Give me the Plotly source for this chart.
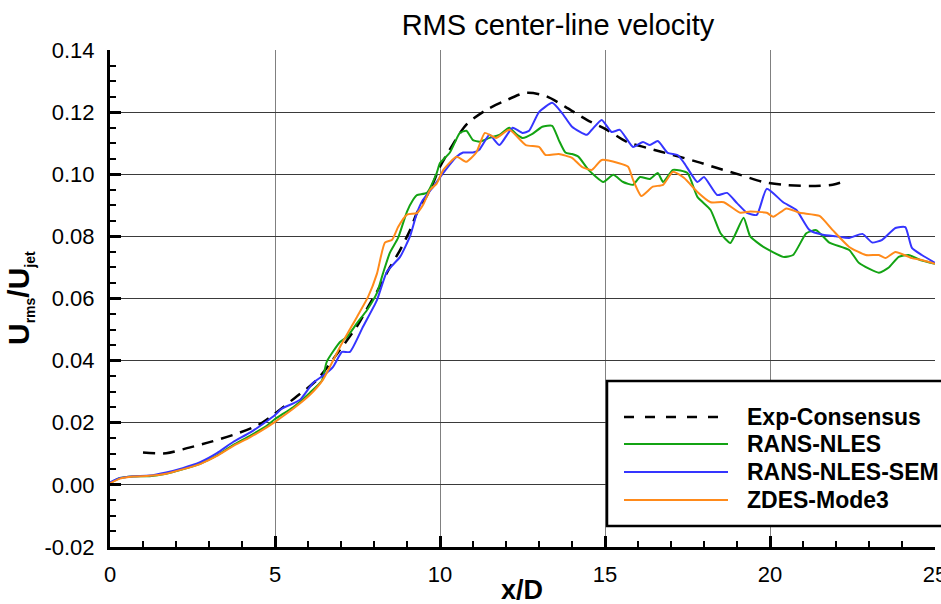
import plotly.graph_objects as go

# ---------------- data ----------------
exp_x = [1.0, 1.7, 2.4, 3.1, 3.9, 4.5, 5.0, 5.6, 6.27, 6.97, 7.48, 7.82, 8.12, 8.48, 8.79, 9.09, 9.3,
         9.7, 10.0, 10.3, 10.8, 11.4, 11.9, 12.6, 13.2, 13.8, 14.45, 15.06, 15.67, 16.27, 17.06, 17.8,
         18.4, 19.1, 19.8, 20.4, 21.2, 21.9, 22.3]
exp_y = [0.0104, 0.0102, 0.012, 0.014, 0.0167, 0.0193, 0.023, 0.028, 0.0338, 0.0435, 0.051, 0.0573,
         0.0628, 0.070, 0.0756, 0.082, 0.0875, 0.095, 0.1024, 0.108, 0.116, 0.1207, 0.1233, 0.1262,
         0.1252, 0.1217, 0.1175, 0.1143, 0.1104, 0.1085, 0.1062, 0.104, 0.102, 0.0998, 0.0975, 0.0966,
         0.0962, 0.0966, 0.0979]

nles_x = [0, 0.3, 0.7, 1.2, 1.7, 2.2, 2.73, 3.24, 3.73, 4.24, 4.75, 5.0, 5.55, 6.06, 6.42, 6.57, 6.97,
          7.18, 7.48, 7.79, 8.09, 8.27, 8.48, 8.73, 9.0, 9.18, 9.3, 9.6, 9.9, 10.0, 10.3, 10.6, 10.8,
          11.0, 11.2, 11.5, 11.8, 12.1, 12.3, 12.5, 12.8, 13.1, 13.4, 13.6, 13.8, 14.0, 14.2, 14.5,
          14.95, 15.25, 15.55, 15.85, 16.06, 16.36, 16.6, 16.76, 17.06, 17.5, 17.8, 18.2, 18.5, 18.8,
          19.2, 19.4, 19.8, 20.4, 20.7, 21.1, 21.4, 21.8, 22.4, 22.7, 23.3, 23.6, 23.9, 24.2, 24.55, 25.0]
nles_y = [0.0006, 0.0022, 0.0027, 0.0028, 0.0036, 0.0050, 0.0068, 0.0095, 0.0128, 0.0158, 0.019,
          0.0212, 0.025, 0.0297, 0.0335, 0.0397, 0.046, 0.0476, 0.052, 0.0563, 0.0618, 0.068, 0.0747,
          0.0795, 0.088, 0.0917, 0.0933, 0.094, 0.1004, 0.1036, 0.107, 0.1133, 0.114, 0.111, 0.1105,
          0.1117, 0.1127, 0.115, 0.113, 0.1117, 0.113, 0.1153, 0.1156, 0.111, 0.107, 0.1065, 0.1056,
          0.1014, 0.0975, 0.0998, 0.0975, 0.0966, 0.0991, 0.0985, 0.1004, 0.0975, 0.1014, 0.1004,
          0.0927, 0.0885, 0.081, 0.0779, 0.086, 0.080, 0.0766, 0.0734, 0.074, 0.081, 0.082, 0.078,
          0.0756, 0.0714, 0.0683, 0.070, 0.0734, 0.074, 0.0724, 0.0712]

sem_x = [0, 0.3, 0.7, 1.2, 1.7, 2.2, 2.73, 3.24, 3.73, 4.24, 4.75, 5.0, 5.2, 5.76, 6.15, 6.5, 6.76,
         7.03, 7.27, 7.67, 8.09, 8.39, 8.79, 9.09, 9.3, 9.48, 9.8, 10.0, 10.5, 10.7, 11.0, 11.2, 11.5,
         11.8, 12.2, 12.5, 12.7, 13.0, 13.4, 13.7, 14.0, 14.45, 14.6, 14.9, 15.2, 15.45, 15.85, 16.15,
         16.36, 16.6, 16.9, 17.2, 17.4, 17.8, 18.0, 18.4, 18.7, 19.0, 19.3, 19.6, 19.9, 20.4, 20.8,
         21.2, 21.6, 22.0, 22.4, 22.8, 23.1, 23.4, 23.8, 24.1, 24.3, 24.6, 25.0]
sem_y = [0.0008, 0.0022, 0.0028, 0.003, 0.004, 0.0054, 0.0073, 0.0102, 0.0138, 0.0168, 0.0205,
         0.0225, 0.0245, 0.0274, 0.0328, 0.0355, 0.038, 0.0428, 0.0428, 0.051, 0.0595, 0.0686, 0.0734,
         0.080, 0.0875, 0.0917, 0.096, 0.099, 0.1056, 0.107, 0.107, 0.108, 0.1127, 0.1094, 0.115,
         0.1133, 0.114, 0.120, 0.123, 0.1197, 0.1153, 0.1127, 0.1143, 0.1175, 0.1136, 0.1143, 0.1088,
         0.1104, 0.1094, 0.1107, 0.1069, 0.1062, 0.1036, 0.0975, 0.0991, 0.0933, 0.094, 0.0907,
         0.0876, 0.0869, 0.0953, 0.091, 0.0885, 0.082, 0.0805, 0.080, 0.0795, 0.0808, 0.078, 0.0789,
         0.0827, 0.083, 0.0763, 0.074, 0.0715]

zdes_x = [0, 0.3, 0.7, 1.2, 1.7, 2.2, 2.73, 3.24, 3.73, 4.24, 4.75, 5.0, 5.55, 6.06, 6.45, 6.97,
          7.48, 7.82, 8.09, 8.33, 8.55, 8.73, 9.0, 9.3, 9.48, 9.7, 9.9, 10.1, 10.5, 10.8, 11.1, 11.36,
          11.7, 12.1, 12.6, 13.0, 13.2, 13.6, 14.0, 14.3, 14.6, 14.9, 15.4, 15.7, 15.85, 16.1, 16.45,
          16.76, 17.06, 17.4, 17.8, 18.2, 18.6, 19.1, 19.4, 19.9, 20.1, 20.5, 20.9, 21.5, 21.9, 22.4,
          22.9, 23.3, 23.5, 23.8, 24.3, 24.6, 25.0]
zdes_y = [0.0005, 0.002, 0.0027, 0.0029, 0.0036, 0.005, 0.0067, 0.0093, 0.0125, 0.0153, 0.0185,
          0.0203, 0.0245, 0.029, 0.0338, 0.0444, 0.054, 0.0605, 0.068, 0.078, 0.0789, 0.083, 0.087,
          0.0875, 0.090, 0.095, 0.097, 0.1014, 0.1056, 0.104, 0.107, 0.1133, 0.1117, 0.1143, 0.1094,
          0.1088, 0.1062, 0.1065, 0.1053, 0.1024, 0.1014, 0.1046, 0.1036, 0.1024, 0.0982, 0.093, 0.096,
          0.0966, 0.1008, 0.0988, 0.0943, 0.091, 0.091, 0.0876, 0.088, 0.0876, 0.0863, 0.089, 0.0876,
          0.0866, 0.082, 0.0766, 0.074, 0.074, 0.073, 0.075, 0.073, 0.0724, 0.0712]

series_names = ["Exp-Consensus", "RANS-NLES", "RANS-NLES-SEM", "ZDES-Mode3"]
y_tickvals = [-0.02, 0.0, 0.02, 0.04, 0.06, 0.08, 0.10, 0.12, 0.14]
y_ticktext = ["-0.02", "0.00", "0.02", "0.04", "0.06", "0.08", "0.10", "0.12", "0.14"]
x_tickvals = [0, 5, 10, 15, 20, 25]
x_ticktext = ["0", "5", "10", "15", "20", "25"]

# ---------------- style ----------------
FONT = "Liberation Sans, Arial, sans-serif"
colors = ["black", "#13a313", "#3535ff", "#ff8a1a"]
dashes = ["12px,8px", "solid", "solid", "solid"]

fig = go.Figure()
data = [(exp_x, exp_y), (nles_x, nles_y), (sem_x, sem_y), (zdes_x, zdes_y)]
for i, (xs, ys) in enumerate(data):
    fig.add_trace(go.Scatter(
        x=xs, y=ys, mode="lines", name=series_names[i],
        line=dict(color=colors[i], width=2.5 if i == 0 else 2, dash=dashes[i],
                  shape="spline", smoothing=0.8 if i == 0 else 0.5),
        showlegend=False))

# plot area in px: x 110..935, y 50..547
L, R, T, B = 110, 935, 50, 547
def px(xp):
    return (xp - L) / (R - L)
def py(yp):
    return (B - yp) / (B - T)

shapes = []
annotations = []
# legend box (extends past the right edge like the reference)
shapes.append(dict(type="rect", xref="paper", yref="paper", x0=px(607), x1=px(990),
                   y0=py(526), y1=py(381), line=dict(color="black", width=2.5),
                   fillcolor="white", layer="above"))
rows = [417, 444, 472, 500]
for i, name in enumerate(series_names):
    shapes.append(dict(type="line", xref="paper", yref="paper", x0=px(624), x1=px(728),
                       y0=py(rows[i]), y1=py(rows[i]),
                       line=dict(color=colors[i], width=2.5 if i == 0 else 2,
                                 dash="10px,11px" if i == 0 else "solid"),
                       layer="above"))
    annotations.append(dict(xref="paper", yref="paper", x=px(745), y=py(rows[i]),
                            xanchor="left", yanchor="middle", showarrow=False,
                            text="<b>%s</b>" % name,
                            font=dict(family=FONT, size=23, color="black")))

# axis titles
annotations.append(dict(xref="paper", yref="paper", x=px(20), y=py(298), xanchor="center",
                        yanchor="middle", showarrow=False, textangle=-90,
                        text=("<b>U<sub><span style='font-size:14px'>rms</span></sub>/"
                              "U<sub><span style='font-size:14px'>jet</span></sub></b>"),
                        font=dict(family=FONT, size=30, color="black")))
annotations.append(dict(xref="paper", yref="paper", x=px(522), y=py(590), xanchor="center",
                        yanchor="middle", showarrow=False, text="<b>x/D</b>",
                        font=dict(family=FONT, size=27, color="black")))

fig.update_layout(
    width=941, height=604,
    margin=dict(l=L, r=941 - R, t=T, b=604 - B, pad=0, autoexpand=False),
    paper_bgcolor="white", plot_bgcolor="white",
    font=dict(family=FONT, size=22, color="black"),
    title=dict(text="RMS center-line velocity", x=558 / 941, xref="container", xanchor="center",
               y=1 - 25 / 604, yref="container", yanchor="middle",
               font=dict(family=FONT, size=29, color="black")),
    shapes=shapes, annotations=annotations,
)
fig.update_xaxes(
    range=[0, 25], tickmode="array", tickvals=x_tickvals, ticktext=x_ticktext,
    ticks="inside", ticklen=11, tickwidth=3, tickcolor="black",
    showline=True, linecolor="black", linewidth=3,
    showgrid=True, gridcolor="#808080", gridwidth=1, zeroline=False,
    ticklabelstandoff=6, ticklabeloverflow="allow", automargin=False,
    minor=dict(dtick=1, tick0=0, ticks="inside", ticklen=6, tickwidth=1.5, tickcolor="black",
               showgrid=False),
    tickfont=dict(family=FONT, size=22, color="black"),
)
fig.update_yaxes(
    range=[-0.02, 0.14], tickmode="array", tickvals=y_tickvals, ticktext=y_ticktext,
    ticks="inside", ticklen=11, tickwidth=3, tickcolor="black",
    showline=True, linecolor="black", linewidth=3,
    showgrid=True, gridcolor="#3a3a3a", gridwidth=1, zeroline=False,
    ticklabelstandoff=8, ticklabeloverflow="allow", automargin=False,
    minor=dict(dtick=0.005, tick0=0, ticks="inside", ticklen=6, tickwidth=1.5, tickcolor="black",
               showgrid=False),
    tickfont=dict(family=FONT, size=22, color="black"),
)

fig.write_html("out.html")
